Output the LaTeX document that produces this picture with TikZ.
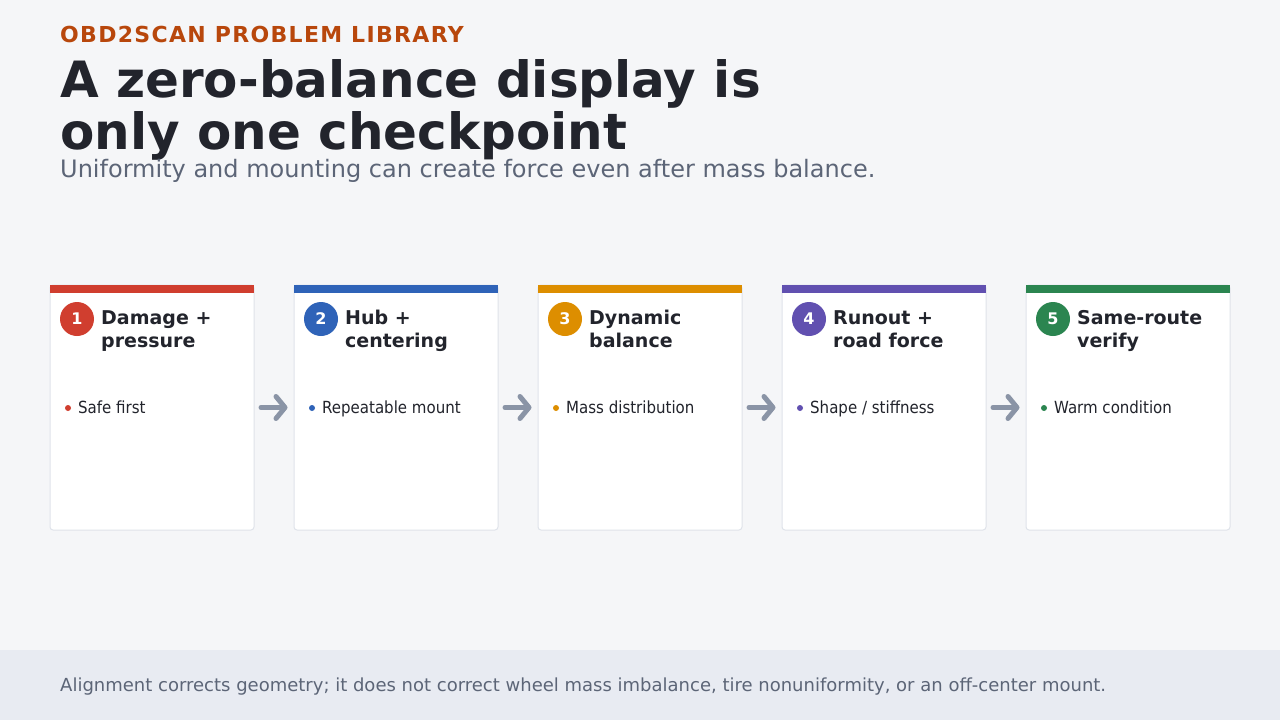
\documentclass[tikz,border=0pt]{standalone}
\usepackage{fontspec}
\setmainfont{DejaVu Sans}
\newfontfamily\condfont{DejaVu Sans Condensed}
\newfontfamily\kickerfont[LetterSpace=6]{DejaVu Sans}
\usetikzlibrary{arrows.meta}
\definecolor{pagebg}{HTML}{F5F6F8}
\definecolor{footbg}{HTML}{E8EBF2}
\definecolor{ink}{HTML}{22242C}
\definecolor{kicker}{HTML}{B8470C}
\definecolor{muted}{HTML}{5C6577}
\definecolor{flowgray}{HTML}{8A94A6}
\definecolor{cardline}{HTML}{DFE3EA}
\definecolor{cRed}{HTML}{D03E2F}
\definecolor{cBlue}{HTML}{2F63B8}
\definecolor{cOrange}{HTML}{DD8E00}
\definecolor{cPurple}{HTML}{6150B0}
\definecolor{cGreen}{HTML}{2B8550}

\begin{document}
\begin{tikzpicture}[x=1pt,y=-1pt,
		card/.style = {draw=cardline, fill=white, line width=1pt, rounded corners=3pt,
			minimum width=204pt, minimum height=245pt, inner sep=0pt},
		badge/.style = {circle, minimum size=34pt, inner sep=0pt, text=white,
			font=\bfseries\fontsize{16}{16}\selectfont},
		head/.style = {anchor=north west, inner sep=0pt, align=left, text=ink,
			font=\bfseries\fontsize{19}{23}\selectfont},
		dot/.style = {circle, minimum size=6pt, inner sep=0pt},
		item/.style = {anchor=base west, inner sep=0pt, text=ink,
			font=\condfont\fontsize{16.7}{17}\selectfont},
		flow/.style = {draw=flowgray, line width=5pt, line cap=round,
			-{Straight Barb[length=9pt, width=22pt, round]},
			shorten <=6.5pt, shorten >=6pt},
	]
	\fill[pagebg] (0,0) rectangle (1280,720);
	\useasboundingbox (0,0) rectangle (1280,720);
	\fill[footbg] (0,650) rectangle (1280,720);

	\node[anchor=base west, inner sep=0pt, text=kicker,
		font=\kickerfont\bfseries\fontsize{22}{22}\selectfont] (kick) at (60,42) {OBD2SCAN PROBLEM LIBRARY};
	\node[anchor=base west, inner sep=0pt, text=ink,
		font=\bfseries\fontsize{50}{50}\selectfont] (titleA) at (60,97) {A zero-balance display is};
	\node[anchor=base west, inner sep=0pt, text=ink,
		font=\bfseries\fontsize{50}{50}\selectfont] (titleB) at (60,149) {only one checkpoint};
	\node[anchor=base west, inner sep=0pt, text=muted,
		font=\fontsize{24}{24}\selectfont] (sub) at (60,177) {Uniformity and mounting can create force even after mass balance.};

	\foreach \i/\col/\headA/\headB/\txt in {
			1/cRed/Damage +/pressure/Safe first,
			2/cBlue/Hub +/centering/Repeatable mount,
			3/cOrange/Dynamic/balance/Mass distribution,
			4/cPurple/Runout +/road force/{Shape / stiffness},
			5/cGreen/Same-route/verify/Warm condition}
	{
		\pgfmathsetmacro{\x}{50+(\i-1)*244}
		\node[card] (card\i) at (\x+102,407.5) {};
		\fill[\col] (card\i.north west) rectangle ++(204,8);
		\node[badge, fill=\col] (num\i) at (\x+27,319) {\i};
		\node[head] (head\i) at (\x+51,310) {\headA\\\headB};
		\node[dot, fill=\col] (dot\i) at (\x+18,408) {};
		\node[item] (item\i) at (\x+28,413) {\txt};
	};

	\foreach \i/\j in {1/2,2/3,3/4,4/5}
		\draw[flow] (card\i.east) -- (card\j.west);

	\node[anchor=base west, inner sep=0pt, text=muted,
		font=\fontsize{18}{18}\selectfont] (note) at (60,691) {Alignment corrects geometry; it does not correct wheel mass imbalance, tire nonuniformity, or an off-center mount.};
\end{tikzpicture}
\end{document}
